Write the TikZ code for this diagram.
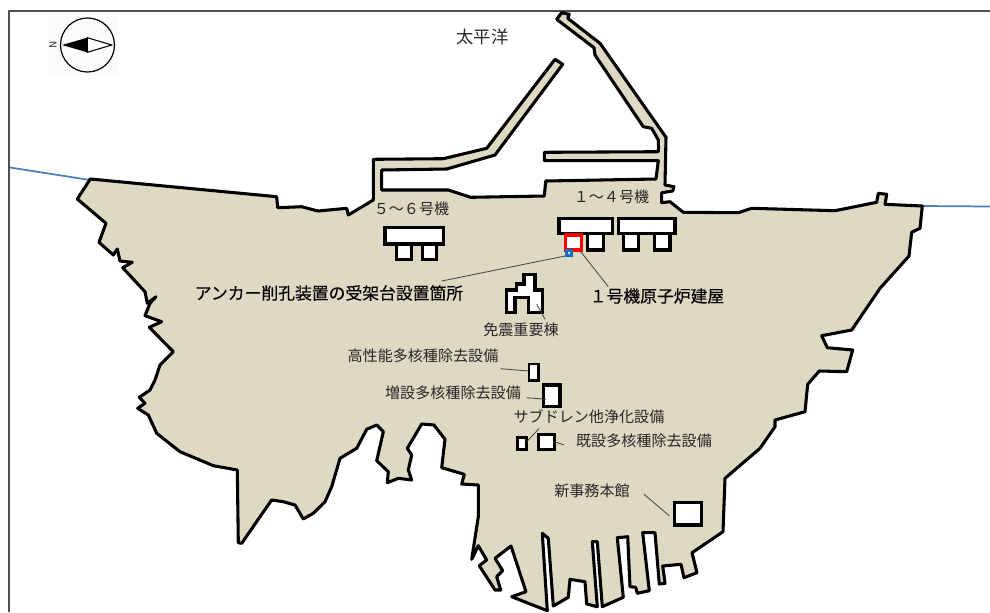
\documentclass[tikz,border=0pt]{standalone}
\usepackage{fontspec}
\setmainfont{Noto Sans CJK JP}
\definecolor{land}{HTML}{DDD9C3}
\definecolor{sea}{HTML}{4A7EBB}
\definecolor{framegray}{HTML}{505050}
\definecolor{inktext}{HTML}{262626}
\definecolor{marker}{HTML}{0070C0}
\tikzset{
  coast/.style={draw=black,fill=land,line width=2.3pt,line join=round},
  bldg/.style={draw=black,fill=white,line width=2.3pt,line join=miter},
  leader/.style={draw=black!75,line width=0.6pt},
  lbl/.style={text=inktext,inner sep=0pt,font=\fontsize{11.3pt}{13pt}\selectfont},
  lblb/.style={text=black,inner sep=0pt,font=\fontsize{12.6pt}{14pt}\selectfont},
}
\newcommand{\spc}[1]{\addfontfeatures{LetterSpace=#1}}
\newcommand{\spb}[1]{\addfontfeatures{LetterSpace=#1,FakeBold=0.25}}
\begin{document}
\begin{tikzpicture}[x=0.75pt,y=-0.75pt]
\useasboundingbox (0,0) rectangle (990,612);
\fill[white] (0,0) rectangle (990,612);
% sea lines
\coordinate (seaL0) at (10,167.5);
\coordinate (seaL1) at (90,180);
\coordinate (seaR0) at (922,206);
\coordinate (seaR1) at (990,206.5);
\draw[sea,line width=1.3pt] (seaL0) -- (seaL1);
\draw[sea,line width=1.3pt] (seaR0) -- (seaR1);
% frame
\draw[framegray,line width=0.9pt] (9,612) -- (9,11) -- (990,11);
% land
\path[coast] (90.3,179) -- (276.7,196.7) -- (277.7,207.7) -- (301.7,206.7) -- (318,211) -- (346.7,208.3) -- (348.3,215) -- (373.3,200)
 -- (373.3,159.3) -- (443.3,158.7) -- (486.7,148.3) -- (555,59.3) -- (562.7,64.3) -- (495,155) -- (446.7,169) -- (381.7,170) -- (381.7,190) -- (448.3,190) -- (470.7,197.3) -- (544.3,196) -- (545.7,181) -- (656,179) -- (658.3,160.7) -- (544.3,160.7) -- (544.3,152.3) -- (658.3,151.7) -- (658.3,140) -- (651.7,128.3) -- (643.3,126.7) -- (595,55) -- (594,47.7) -- (556.7,19.3) -- (561.7,12.7) -- (569.3,14.3) -- (567.7,18.3) -- (600,43.3) -- (666,137.3) -- (665,185) -- (674,186.7) -- (672.7,191) -- (661.7,192.7) -- (661.7,202.7) -- (670,201.7) -- (683.3,212.3) -- (738.3,212.7) -- (751.7,208.3) -- (835,210.7) -- (876.7,202.3) -- (878.3,193.3) -- (886.7,194.3) -- (885,204.3) -- (922.3,206) -- (920,228.3) -- (911.7,232.3) -- (909,256) -- (880,288.3) -- (851.7,330) -- (821.7,335.7) -- (827.3,347.7) -- (852.7,350) -- (846.7,371.7) -- (819.3,371) -- (807.7,384.3) -- (805,411.7) -- (775,420) -- (775,426.7) -- (760,448.3) -- (725,478.3) -- (723,531.7) -- (692,552.7) -- (697,572.7) -- (684,577.7) -- (681,564.3) -- (662.7,566) -- (665,583.3) -- (659.3,584) -- (655,532.7) -- (642.7,532.7) -- (649.3,590.7) -- (637.3,593.3) -- (635.7,587.3) -- (630,586.7) -- (627.7,536.7) -- (617.3,537.7) -- (623.3,597.3) -- (602.3,606.7) -- (597.3,541.7) -- (592.3,541.7) -- (597.3,606.7) -- (586.7,604) -- (585,581.7) -- (570,579.3) -- (568.3,597.3) -- (553.3,606) -- (548.3,538.3) -- (542.3,533.3) -- (547.3,610.7) -- (511.7,596.7) -- (526,591.7) -- (511,546) -- (495,558.3) -- (502.7,570.7) -- (496.7,576.7) -- (500.7,590) -- (495,590) -- (479.3,565.7) -- (486.7,560) -- (478.3,545.7) -- (471.7,559.3) -- (478.3,516.7) -- (478.3,485) -- (461.7,484) -- (464.3,474.3) -- (441.7,467.7) -- (445,439.3) -- (434,425) -- (421.7,424) -- (407.3,448.3) -- (411.7,455) -- (408.3,470) -- (411.7,480) -- (398.3,478.3) -- (387.3,482.7) -- (388.3,471.7) -- (376.7,460.7) -- (383.3,431.7) -- (376.7,425) -- (366.7,429.3) -- (356.7,448.3) -- (340,458.3) -- (331.7,486.7) -- (325,501.7) -- (313.3,513.3) -- (303.3,519) -- (295,505) -- (283.3,501.7) -- (271.7,500) -- (260,516.7) -- (241.7,543.3) -- (238.3,542.7) -- (237.3,470) -- (213.3,465.7) -- (180,451.7) -- (156.7,433.3) -- (148.3,415) -- (137.7,408.3) -- (145,403.3) -- (139.3,397.3) -- (150,390) -- (155,380) -- (160,365) -- (173.3,351.7) -- (149.3,327.3) -- (161.7,321.7) -- (145,315.7) -- (150,303.3) -- (156,296.7) -- (147.3,303.3) -- (145,291.7) -- (122.7,267.7) -- (132.3,262.3) -- (120,261) -- (117.3,249) -- (113.3,255) -- (99,242.3) -- (106,223.3) -- (77.3,199) -- cycle;
% compass
\fill[black!1.5] (48,14) rectangle (118,76);
\coordinate (cc) at (87.5,45);
\draw[black,line width=0.9pt] (cc) circle[radius=27*0.75pt];
\fill[black] (62,45) -- (87.3,37.7) -- (87.3,52.3) -- cycle;
\draw[black,fill=white,line width=0.8pt] (87.3,37.7) -- (111.7,45) -- (87.3,52.3) -- cycle;
\node[rotate=90,inner sep=0pt,text=inktext,font=\fontsize{7.5pt}{8pt}\selectfont] (north) at (53,45) {N};
% buildings: units 5-6
\draw[bldg] (396.7,244) rectangle (411.7,259.3);
\draw[bldg] (422.3,244) rectangle (436.7,259.3);
\draw[bldg] (385,227.7) rectangle (443.3,244);
% buildings: units 1-4
\draw[bldg] (587.7,233) rectangle (603.3,250);
\draw[bldg] (623.3,233) rectangle (638.3,250);
\draw[bldg] (654.3,233) rectangle (670,250);
\draw[bldg] (559,218.3) rectangle (612.3,233.3);
\draw[bldg] (618.3,218.3) rectangle (675,233.3);
\draw[bldg,draw=red] (565.7,235) rectangle (581.7,250);
% seismic isolated building
\draw[bldg] (506.7,312.7) -- (506.7,290) -- (516.7,290) -- (516.7,284) -- (524,284) -- (524,274.3) -- (535,274.3) -- (535,290) -- (542.7,290) -- (542.7,312.7) -- (528.3,312.7) -- (528.3,297.3) -- (515,297.3) -- (515,312.7) -- cycle;
% small facilities
\draw[bldg,line width=2pt] (529,364) rectangle (538.3,380.7);
\draw[bldg] (543.3,385) rectangle (560,406.7);
\draw[bldg,line width=2pt] (517.3,437.3) rectangle (526.7,449.3);
\draw[bldg] (538.3,434.3) rectangle (554.3,449.3);
\draw[bldg] (674.3,502.7) rectangle (701.7,525);
% blue marker
\fill[marker] (565,248.9) rectangle (573.3,257.2);
\fill[white] (569.1,253) circle[radius=1pt];
% leader ends
\coordinate (a1) at (565,256); \coordinate (a2) at (441.7,281);
\coordinate (b1) at (580,250.7); \coordinate (b2) at (608.3,286.7);
\coordinate (c1) at (536.7,304); \coordinate (c2) at (545,319.3);
\coordinate (d1) at (500.7,368.7); \coordinate (d2) at (529,371);
\coordinate (e1) at (526.7,397.7); \coordinate (e2) at (546,399.3);
\coordinate (f1) at (539.3,428.3); \coordinate (f2) at (526.7,441.7);
\coordinate (g1) at (554.3,441.7); \coordinate (g2) at (564,445);
\coordinate (h1) at (644,494.3); \coordinate (h2) at (669.3,515.7);
\draw[leader] (a1) -- (a2);
\draw[leader] (b1) -- (b2);
\draw[leader] (c1) -- (c2);
\draw[leader] (d1) -- (d2);
\draw[leader] (e1) -- (e2);
\draw[leader] (f1) -- (f2);
\draw[leader] (g1) -- (g2);
\draw[leader] (h1) -- (h2);
% labels
\node[lbl,font=\fontsize{13pt}{14pt}\selectfont] (pacific) at (482.5,37) {\spc{0.08}太平洋};
\node[lbl] (u56) at (411.5,209) {\spc{0.06}５～６号機};
\node[lbl] (u14) at (611.5,196.5) {\spc{0.06}１～４号機};
\node[lblb] (anchorlbl) at (329,293) {\spb{0.06}アンカー削孔装置の受架台設置箇所};
\node[lblb] (unit1) at (657,296) {\spb{0.06}１号機原子炉建屋};
\node[lbl] (menshin) at (521,330) {\spc{0.06}免震重要棟};
\node[lbl] (koseino) at (423,356) {\spc{0.1}高性能多核種除去設備};
\node[lbl] (zosetsu) at (453,393) {\spc{0.04}増設多核種除去設備};
\node[lbl] (subdrain) at (589,417) {\spc{0.04}サブドレン他浄化設備};
\node[lbl] (kisetsu) at (644,441) {\spc{0.04}既設多核種除去設備};
\node[lbl] (shinjimu) at (592,491) {\spc{0.04}新事務本館};
\end{tikzpicture}
\end{document}
